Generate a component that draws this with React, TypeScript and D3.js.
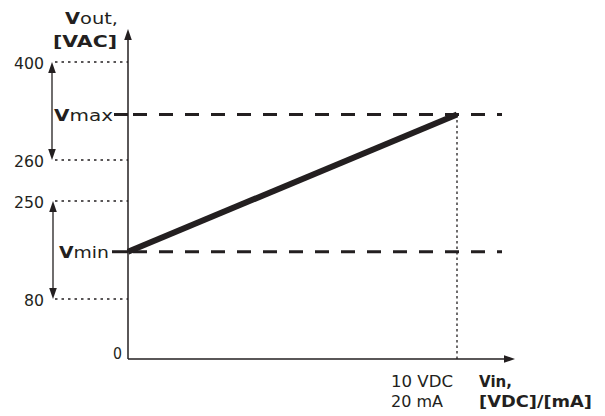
import React from "react";
import * as d3 from "d3";

const yTickValues = [0, 80, 250, 260, 400];
const yTickLabels = ["0", "80", "250", "260", "400"];
const yTickPixels = [359, 299, 201, 160, 62];
const vminValue = 162;
const vmaxValue = 325;
const xDomain = [0, 10];
const xEndLabels = ["10 VDC", "20 mA"];
const lineX = [0, 10];
const lineY = [vminValue, vmaxValue];

const W = 605;
const H = 416;
const font = "'DejaVu Sans', Verdana, sans-serif";

export default function App() {
  const y = d3.scaleLinear().domain(yTickValues).range(yTickPixels);
  const x = d3.scaleLinear().domain(xDomain).range([128, 457]);
  const x0 = x(0);
  const y0 = y(0);
  const lineGen = d3
    .line<number>()
    .x((_, i) => x(lineX[i]))
    .y((d) => y(d));
  const arrowX = 52;
  const dark = "#231f20";

  const arrowUp = (cx: number, tipY: number) =>
    `M${cx},${tipY} L${cx - 3.8},${tipY + 11} L${cx + 3.8},${tipY + 11} Z`;
  const arrowDown = (cx: number, tipY: number) =>
    `M${cx},${tipY} L${cx - 3.8},${tipY - 11} L${cx + 3.8},${tipY - 11} Z`;

  const digitW = 10;

  return (
    <svg
      width={W}
      height={H}
      style={{ position: "absolute", left: 0, top: 0, background: "#fff" }}
      fontFamily={font}
      fontSize={15}
    >
      {/* dotted guides */}
      {yTickValues.slice(1).map((v) => (
        <line
          key={v}
          x1={55}
          x2={x0}
          y1={y(v)}
          y2={y(v)}
          stroke={dark}
          strokeWidth={1.3}
          strokeDasharray="2.5,4"
        />
      ))}
      {/* tick labels */}
      {yTickValues.map((v, i) =>
        v === 0 ? (
          <text
            key={v}
            x={113}
            y={y(v)}
            fill={dark}
            textLength={9}
            lengthAdjust="spacingAndGlyphs"
          >
            {yTickLabels[i]}
          </text>
        ) : (
          <text
            key={v}
            x={44 - yTickLabels[i].length * digitW}
            y={y(v) + 7}
            fill={dark}
            textLength={yTickLabels[i].length * digitW}
            lengthAdjust="spacingAndGlyphs"
          >
            {yTickLabels[i]}
          </text>
        )
      )}
      {/* double arrows */}
      <line x1={arrowX} x2={arrowX} y1={y(400) + 8} y2={y(260) - 8} stroke={dark} strokeWidth={1.3} />
      <path d={arrowUp(arrowX, y(400))} fill={dark} />
      <path d={arrowDown(arrowX, y(260))} fill={dark} />
      <line x1={arrowX + 1} x2={arrowX + 1} y1={y(250) + 8} y2={y(80) - 8} stroke={dark} strokeWidth={1.3} />
      <path d={arrowUp(arrowX + 1, y(250))} fill={dark} />
      <path d={arrowDown(arrowX + 1, y(80))} fill={dark} />

      {/* Vmax / Vmin labels */}
      <text
        x={54}
        y={y(vmaxValue) + 6}
        fill={dark}
        textLength={59}
        lengthAdjust="spacingAndGlyphs"
      >
        <tspan fontWeight="bold">V</tspan>max
      </text>
      <text
        x={59}
        y={y(vminValue) + 6}
        fill={dark}
        textLength={50}
        lengthAdjust="spacingAndGlyphs"
      >
        <tspan fontWeight="bold">V</tspan>min
      </text>
      <line x1={114} x2={x0} y1={y(vmaxValue)} y2={y(vmaxValue)} stroke={dark} strokeWidth={3} />
      <line x1={112} x2={x0} y1={y(vminValue)} y2={y(vminValue)} stroke={dark} strokeWidth={3} />
      {[vmaxValue, vminValue].map((v) => (
        <line
          key={v}
          x1={x0 + 5}
          x2={502}
          y1={y(v)}
          y2={y(v)}
          stroke={dark}
          strokeWidth={3}
          strokeDasharray="14,12"
        />
      ))}

      {/* vertical dotted at x end */}
      <line
        x1={x(10)}
        x2={x(10)}
        y1={y(vmaxValue)}
        y2={y0}
        stroke={dark}
        strokeWidth={1.3}
        strokeDasharray="2.5,3"
      />

      {/* axes */}
      <line x1={x0} x2={x0} y1={y0} y2={38} stroke={dark} strokeWidth={1.5} />
      <path d={arrowUp(x0, 29)} fill={dark} />
      <line x1={x0} x2={505} y1={y0} y2={y0} stroke={dark} strokeWidth={1.5} />
      <path d={`M515,${y0} L504,${y0 - 3.8} L504,${y0 + 3.8} Z`} fill={dark} />

      {/* main line */}
      <path d={lineGen(lineY) || ""} fill="none" stroke={dark} strokeWidth={6} />

      {/* axis titles */}
      <text x={65} y={24} fill={dark} textLength={53} lengthAdjust="spacingAndGlyphs">
        <tspan fontWeight="bold">V</tspan>out,
      </text>
      <text
        x={53}
        y={47}
        fill={dark}
        fontWeight="bold"
        textLength={64}
        lengthAdjust="spacingAndGlyphs"
      >
        [VAC]
      </text>
      <text x={391} y={387} fill={dark} textLength={62} lengthAdjust="spacingAndGlyphs">
        {xEndLabels[0]}
      </text>
      <text x={391} y={407} fill={dark} textLength={52} lengthAdjust="spacingAndGlyphs">
        {xEndLabels[1]}
      </text>
      <text
        x={479}
        y={387}
        fill={dark}
        fontWeight="bold"
        textLength={33}
        lengthAdjust="spacingAndGlyphs"
      >
        Vin,
      </text>
      <text
        x={479}
        y={407}
        fill={dark}
        fontWeight="bold"
        textLength={113}
        lengthAdjust="spacingAndGlyphs"
      >
        [VDC]/[mA]
      </text>
    </svg>
  );
}
